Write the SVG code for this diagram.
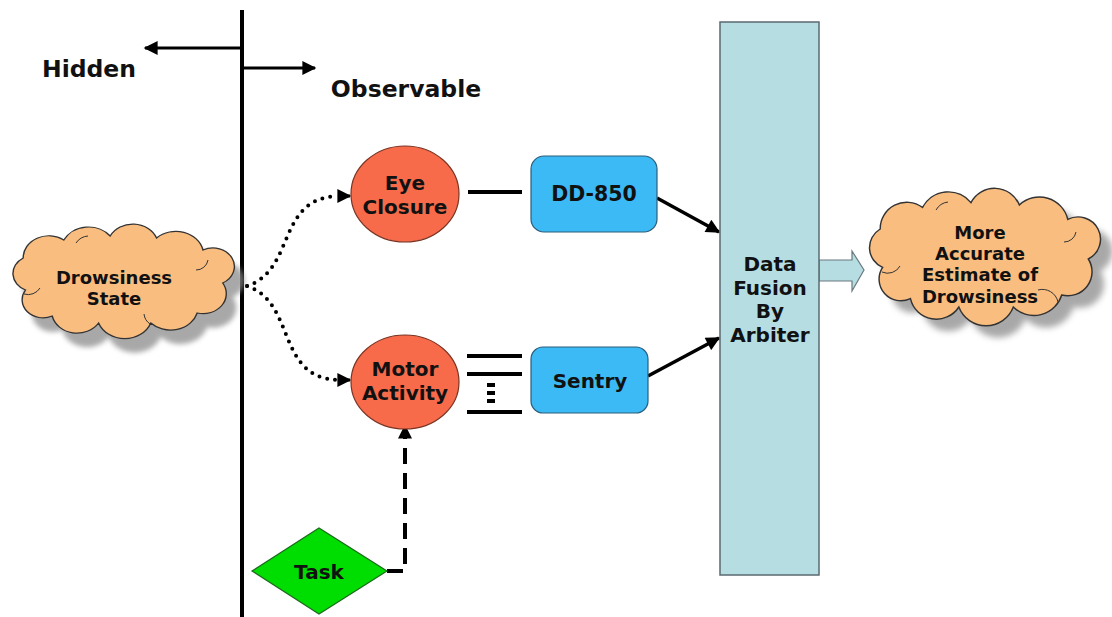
<svg xmlns="http://www.w3.org/2000/svg" width="1112" height="617" viewBox="0 0 1112 617">
  <style>
    text { font-family: "DejaVu Sans", Verdana, sans-serif; font-weight: bold; fill: #111; text-anchor: middle; dominant-baseline: central; }
    .cloud { fill: #f9bd80; stroke: #333; stroke-width: 1.2; }
    .shadow { fill: #8c8c8c; opacity: 0.75; }
    .crease { fill: none; stroke: #333; stroke-width: 1; }
    .oval { fill: #f86b4a; stroke: #7a3322; stroke-width: 1.2; }
    .box { fill: #3cbaf6; stroke: #2b5e7a; stroke-width: 1.2; }
    .solid { stroke: #000; stroke-width: 4; fill: none; }
    .dotted { stroke: #000; stroke-width: 4; fill: none; stroke-linecap: round; stroke-dasharray: 0 8; }
  </style>
  <defs>
    <path id="cloudShape" d="M 22,62 A 18,18 0 0 1 20,30 A 22,22 0 0 1 55,12 A 24,24 0 0 1 95,8 A 22,22 0 0 1 135,10 A 24,24 0 0 1 175,22 A 18,18 0 0 1 192,55 A 20,20 0 0 1 170,85 A 24,24 0 0 1 130,95 A 24,24 0 0 1 85,95 A 22,22 0 0 1 45,88 A 18,18 0 0 1 22,62 Z"/>
    <filter id="soft" x="-10%" y="-10%" width="120%" height="130%">
      <feGaussianBlur stdDeviation="2.5"/>
    </filter>
    <marker id="head" viewBox="0 0 10 10" refX="9" refY="5" markerWidth="17" markerHeight="14" markerUnits="userSpaceOnUse" orient="auto">
      <path d="M0,0 L10,5 L0,10 Z" fill="#000"/>
    </marker>
  </defs>

  <!-- hidden / observable divider -->
  <g id="divider">
    <line x1="242" y1="10" x2="242" y2="617" stroke="#000" stroke-width="4"/>
    <line x1="242" y1="48" x2="145" y2="48" stroke="#000" stroke-width="3" marker-end="url(#head)"/>
    <line x1="242" y1="68" x2="315" y2="68" stroke="#000" stroke-width="3" marker-end="url(#head)"/>
    <text x="89" y="69" style="font-size:23.5px">Hidden</text>
    <text x="406" y="89" style="font-size:23.5px">Observable</text>
  </g>

  <!-- connectors -->
  <g id="connectors">
    <path class="dotted" d="M 247,286 C 296,270 276,198 338,196"/>
    <path d="M 338,196 L 350,196" stroke="#000" stroke-width="3" marker-end="url(#head)"/>
    <path class="dotted" d="M 247,286 C 296,302 276,378 338,380"/>
    <path d="M 338,380 L 350,380" stroke="#000" stroke-width="3" marker-end="url(#head)"/>
    <line class="solid" x1="468" y1="192" x2="522" y2="192"/>
    <line class="solid" x1="467" y1="356" x2="522" y2="356"/>
    <line class="solid" x1="467" y1="374" x2="522" y2="374"/>
    <line x1="491" y1="383" x2="491" y2="406" stroke="#000" stroke-width="8" stroke-dasharray="4 4"/>
    <line class="solid" x1="467" y1="412" x2="522" y2="412"/>
    <line x1="657" y1="198" x2="719" y2="232" stroke="#000" stroke-width="3.5" marker-end="url(#head)"/>
    <line x1="648" y1="376" x2="719" y2="338" stroke="#000" stroke-width="3.5" marker-end="url(#head)"/>
    <path d="M 387,571 H 405 V 426" fill="none" stroke="#000" stroke-width="4" stroke-dasharray="16 9" marker-end="url(#head)"/>
    <path d="M 819,260 H 852 V 251 L 864,270 L 852,291 V 281 H 819 Z" fill="#b5dde2" stroke="#6a7a80" stroke-width="1.2"/>
  </g>

  <!-- drowsiness state cloud -->
  <g id="drowsiness-state">
    <use href="#cloudShape" class="shadow" filter="url(#soft)" transform="translate(10,242) scale(1.16,1.0)"/>
    <use href="#cloudShape" class="cloud" vector-effect="non-scaling-stroke" transform="translate(0,228) scale(1.16,1.0)"/>
    <path class="crease" d="M 24,294 A 14,14 0 0 0 40,288 M 76,243 A 16,16 0 0 1 88,236 M 196,270 A 12,12 0 0 0 208,260 M 150,324 A 14,14 0 0 1 144,314"/>
    <text x="114" y="277" style="font-size:18px">Drowsiness</text>
    <text x="114" y="298" style="font-size:18px">State</text>
  </g>

  <!-- eye closure -->
  <g id="eye-closure">
    <ellipse class="oval" cx="405" cy="194" rx="54" ry="48"/>
    <text x="405" y="183" style="font-size:20px">Eye</text>
    <text x="405" y="207" style="font-size:20px">Closure</text>
  </g>

  <!-- motor activity -->
  <g id="motor-activity">
    <ellipse class="oval" cx="405" cy="382" rx="54" ry="47"/>
    <text x="405" y="369" style="font-size:20px">Motor</text>
    <text x="405" y="393" style="font-size:20px">Activity</text>
  </g>

  <!-- DD-850 sensor -->
  <g id="dd-850">
    <rect class="box" x="531" y="156" width="126" height="76" rx="13"/>
    <text x="594" y="194" style="font-size:20.5px">DD-850</text>
  </g>

  <!-- Sentry sensor -->
  <g id="sentry">
    <rect class="box" x="531" y="347" width="117" height="66" rx="12"/>
    <text x="590" y="381" style="font-size:20px">Sentry</text>
  </g>

  <!-- task -->
  <g id="task">
    <polygon points="252,571 319,528 387,571 319,614" fill="#00dd00" stroke="#1c6a1c" stroke-width="1.2"/>
    <text x="319" y="572" style="font-size:20px">Task</text>
  </g>

  <!-- arbiter -->
  <g id="data-fusion">
    <rect x="720" y="22" width="99" height="553" fill="#b5dde2" stroke="#5a6a70" stroke-width="1.5"/>
    <text x="770" y="264" style="font-size:20px">Data</text>
    <text x="770" y="288" style="font-size:20px">Fusion</text>
    <text x="770" y="311" style="font-size:20px">By</text>
    <text x="770" y="335" style="font-size:20px">Arbiter</text>
  </g>

  <!-- output estimate cloud -->
  <g id="accurate-estimate">
    <use href="#cloudShape" class="shadow" filter="url(#soft)" transform="translate(868,205) scale(1.21,1.2)"/>
    <use href="#cloudShape" class="cloud" vector-effect="non-scaling-stroke" transform="translate(856,193) scale(1.21,1.2)"/>
    <path class="crease" d="M 882,272 A 14,14 0 0 0 900,266 M 936,210 A 16,16 0 0 1 948,202 M 1064,242 A 12,12 0 0 0 1076,232 M 1058,302 A 16,16 0 0 0 1038,290"/>
    <text x="980" y="232" style="font-size:18px">More</text>
    <text x="980" y="253" style="font-size:18px">Accurate</text>
    <text x="980" y="274" style="font-size:18px">Estimate of</text>
    <text x="980" y="296" style="font-size:18px">Drowsiness</text>
  </g>
</svg>
